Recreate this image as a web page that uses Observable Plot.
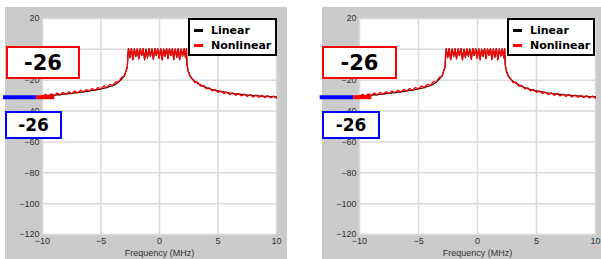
<!DOCTYPE html>
<html><head><meta charset="utf-8">
<script src="https://cdn.jsdelivr.net/npm/d3@7"></script>
<script src="https://cdn.jsdelivr.net/npm/@observablehq/plot@0.6"></script>
<style>
body{margin:0;background:#fff;width:601px;height:259px;position:relative;overflow:hidden;font-family:"Liberation Sans",Arial,sans-serif}
.panel{position:absolute;top:0;height:259px}
.bg{position:absolute;background:#cbcbcb}
.legend{position:absolute;background:#fff;border:2px solid #000;box-sizing:border-box;font:bold 11px "DejaVu Sans",sans-serif;color:#000;padding:3px 0 0 4px;line-height:15px;white-space:nowrap}
.legend span.sw{display:inline-block;width:9px;height:3px;vertical-align:middle;margin-right:8px;position:relative;top:-1px}
.box{position:absolute;background:#fff;box-sizing:border-box;font-family:"DejaVu Sans",sans-serif;font-weight:bold;color:#000;display:flex;align-items:center;justify-content:center}
</style></head>
<body>
<script>
const freq = [-10,-9.75,-9.5,-9.25,-9,-8.75,-8.5,-8.25,-8,-7.75,-7.5,-7.25,-7,-6.75,-6.5,-6.25,-6,-5.75,-5.5,-5.25,-5,-4.75,-4.5,-4.25,-4,-3.75,-3.5,-3.25,-3,-2.85,-2.75,-2.7,
-2.65,-2.525,-2.4,-2.275,-2.15,-2.025,-1.9,-1.775,-1.65,-1.525,-1.4,-1.275,-1.15,-1.025,-0.9,-0.775,-0.65,-0.525,-0.4,-0.275,-0.15,-0.025,0.1,0.225,0.35,0.475,0.6,0.725,0.85,0.975,1.1,1.225,1.35,1.475,1.6,1.725,1.85,1.975,2.1,2.225,2.3,
2.35,2.45,2.6,2.75,3,3.25,3.5,3.75,4,4.25,4.5,4.75,5,5.25,5.5,5.75,6,6.25,6.5,6.75,7,7.25,7.5,7.75,8,8.25,8.5,8.75,9,9.25,9.5,9.75,10];
const nonlinear = [-30.7,-29.1,-30.3,-28.8,-29.9,-28.3,-29.5,-27.9,-29.1,-27.5,-28.7,-27.0,-28.2,-26.5,-27.7,-26.0,-27.1,-25.4,-26.5,-24.7,-25.7,-23.8,-24.7,-22.7,-23.4,-21.1,-21.3,-18.3,-17.5,-13.6,-11.6,-4.0,
0.4,-5.5,0.6,-6.8,0.2,-4.6,0.5,-6.2,0.3,-3.9,0.6,-6.9,0.1,-5.1,0.5,-4.3,0.2,-6.5,0.6,-3.8,0.3,-5.8,0.5,-6.9,0.1,-4.4,0.6,-6.1,0.2,-3.7,0.5,-6.6,0.3,-5.0,0.6,-6.8,0.2,-4.2,0.5,-5.5,0.3,
-10.0,-14.0,-17.6,-18.4,-21.5,-21.3,-23.8,-23.3,-25.6,-24.9,-26.9,-26.0,-27.9,-26.9,-28.7,-27.6,-29.3,-28.2,-29.8,-28.6,-30.2,-29.0,-30.6,-29.3,-30.9,-29.6,-31.1,-29.8,-31.3,-30.0,-31.5,-30.2,-31.6];
const linear = [-30.0,-29.9,-30.1,-29.7,-29.8,-29.4,-29.5,-29.1,-29.1,-28.7,-28.6,-28.2,-28.1,-27.7,-27.6,-27.2,-27.0,-26.6,-26.4,-26.0,-25.7,-25.2,-24.8,-24.1,-23.6,-22.6,-21.2,-19.4,-16.9,-13.6,-11.4,-3.5,
0.5,-5.2,0.5,-6.5,0.3,-4.8,0.4,-6.0,0.4,-4.1,0.5,-6.6,0.2,-5.3,0.4,-4.5,0.3,-6.3,0.5,-4.0,0.4,-5.6,0.4,-6.6,0.2,-4.6,0.5,-5.9,0.3,-3.9,0.4,-6.4,0.4,-5.2,0.5,-6.5,0.3,-4.4,0.4,-5.3,0.4,
-9.8,-14.2,-16.8,-18.8,-20.6,-21.9,-23.0,-24.0,-24.8,-25.5,-26.0,-26.6,-26.9,-27.4,-27.6,-28.0,-28.3,-28.6,-28.8,-29.0,-29.2,-29.4,-29.6,-29.7,-29.9,-30.0,-30.2,-30.3,-30.4,-30.5,-30.6,-30.7,-30.8];
const xTicks = [-10,-5,0,5,10];
const yTicks = [20,0,-20,-40,-60,-80,-100,-120];
const seriesNames = ["Linear","Nonlinear"];
const seriesColors = ["#000000","#ff0000"];
const markerLevel = [-31];
const markerBlue = [-13.33,-10.5];
const markerRed = [-10.5,-8.95];
const boxLabel = "-26";
const xLabel = "Frequency (MHz)";

const rows = freq.map((f,i)=>({f, lin: linear[i], nl: nonlinear[i]}));

function makePanel(width, mLeft, mRight){
  return Plot.plot({
    width, height:259,
    marginLeft:mLeft, marginRight:mRight, marginTop:18, marginBottom:25,
    style:{background:"transparent", overflow:"visible", fontFamily:"'Liberation Sans',Arial,sans-serif", fontSize:"9px", color:"#333"},
    x:{domain:[-10,10]},
    y:{domain:[-120,20]},
    marks:[
      Plot.frame({fill:"white", stroke:null}),
      Plot.gridX(xTicks,{stroke:"#dadada", strokeOpacity:1, strokeWidth:1.5}),
      Plot.gridY(yTicks,{stroke:"#dadada", strokeOpacity:1, strokeWidth:1.5}),
      Plot.axisX(xTicks,{tickSize:0, tickPadding:3, label:xLabel, labelAnchor:"center", labelOffset:21, labelArrow:"none", fill:"#333"}),
      Plot.axisY(yTicks,{tickSize:0, tickPadding:3, label:null, fill:"#333"}),
      Plot.line(rows,{x:"f", y:"lin", stroke:seriesColors[0], strokeWidth:1.2}),
      Plot.line(rows,{x:"f", y:"nl", stroke:seriesColors[1], strokeWidth:1.3}),
      Plot.ruleY(markerLevel,{x1:markerBlue[0], x2:markerBlue[1], stroke:"#0000ff", strokeWidth:4}),
      Plot.ruleY(markerLevel,{x1:markerRed[0], x2:markerRed[1], stroke:"#ff0000", strokeWidth:4})
    ]
  });
}

function addPanel(svgLeft, svgWidth, mLeft, mRight, bgLeft, bgRight, legLeft, legRight, redLeft, redRight, blueLeft, blueRight){
  const bg = document.createElement("div");
  bg.className="bg";
  Object.assign(bg.style,{left:bgLeft+"px", top:"7px", width:(bgRight-bgLeft)+"px", height:"252px"});
  document.body.appendChild(bg);
  const wrap = document.createElement("div");
  wrap.className="panel";
  wrap.style.left = svgLeft+"px";
  wrap.style.width = svgWidth+"px";
  wrap.appendChild(makePanel(svgWidth, mLeft, mRight));
  document.body.appendChild(wrap);
  const leg = document.createElement("div");
  leg.className="legend";
  Object.assign(leg.style,{left:legLeft+"px", top:"18px", width:(legRight-legLeft)+"px", height:"38px"});
  leg.innerHTML = seriesNames.map((n,i)=>`<div><span class="sw" style="background:${seriesColors[i]}"></span>${n}</div>`).join("");
  document.body.appendChild(leg);
  const rb = document.createElement("div");
  rb.className="box";
  Object.assign(rb.style,{left:redLeft+"px", top:"46px", width:(redRight-redLeft)+"px", height:"33px", border:"2px solid #ff0000", fontSize:"21px"});
  rb.textContent = boxLabel;
  document.body.appendChild(rb);
  const bb = document.createElement("div");
  bb.className="box";
  Object.assign(bb.style,{left:blueLeft+"px", top:"111px", width:(blueRight-blueLeft)+"px", height:"28px", border:"2px solid #0000ff", fontSize:"17px"});
  bb.textContent = boxLabel;
  document.body.appendChild(bb);
}

addPanel(0, 290, 42, 14, 5, 287, 188, 277, 6, 80, 5, 62);
addPanel(300, 301, 59, 6, 322, 601, 507, 595, 322, 397, 322, 380);
</script>
</body></html>
